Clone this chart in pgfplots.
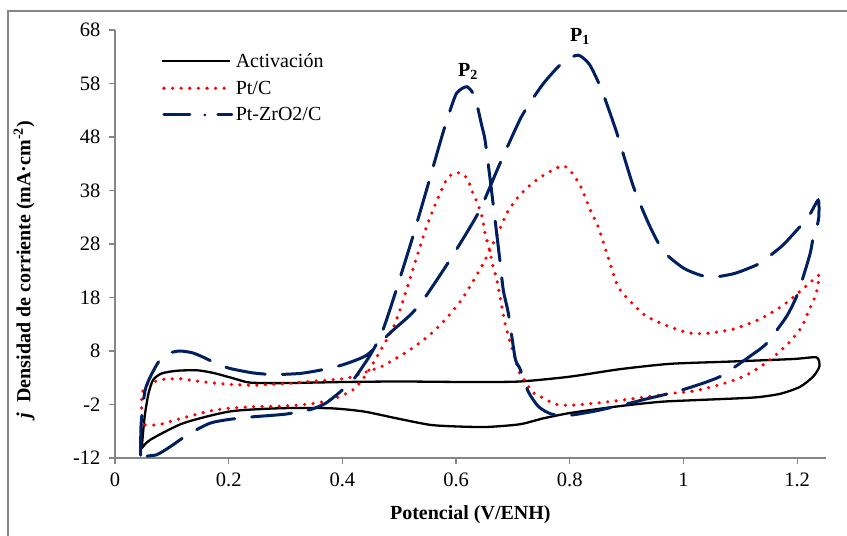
\documentclass[border=0pt]{standalone}
\usepackage{pgfplots}
\pgfplotsset{compat=1.18}
\usepackage{fontspec}
\setmainfont{Liberation Serif}
\definecolor{navy}{RGB}{0,32,96}
\definecolor{axgray}{RGB}{134,134,134}
\begin{document}
\begin{tikzpicture}[x=1pt,y=1pt]
\useasboundingbox (0,0) rectangle (847,536);
\draw[axgray, line width=1.3pt] (8,-20) -- (8,525) -- (870,525);
\begin{axis}[
  at={(115pt,78pt)}, anchor=south west,
  scale only axis, width=710.6pt, height=428pt,
  xmin=0, xmax=1.25, ymin=-12, ymax=68,
  axis lines*=left,
  axis line style={axgray, line width=1.2pt},
  tick style={axgray, line width=1.2pt},
  tick align=outside, major tick length=6pt,
  xtick={0,0.2,0.4,0.6,0.8,1,1.2},
  xticklabels={0,0.2,0.4,0.6,0.8,1,1.2},
  ytick={-12,-2,8,18,28,38,48,58,68},
  yticklabels={-12,-2,8,18,28,38,48,58,68},
  ticklabel style={font=\fontsize{20.5}{22}\selectfont, text=black},
  xticklabel style={yshift=-5pt},
  yticklabel style={xshift=-5pt},
  xlabel={\textbf{Potencial (V/ENH)}},
  xlabel style={at={(axis description cs:0.5,-0.132)}, anchor=center, font=\fontsize{20}{22}\selectfont},
  ylabel={\textbf{\textit{j}\hspace{0.5em}Densidad de corriente (mA·cm\textsuperscript{-2})}},
  ylabel style={at={(axis description cs:-0.128,0.44)}, anchor=center, rotate=0, font=\fontsize{20}{22}\selectfont},
  legend style={draw=none, fill=none, at={(rel axis cs:0.06,0.955)}, anchor=north west,
    font=\fontsize{20}{22}\selectfont, row sep=8pt, legend cell align=left},
  legend image code/.code={\draw[#1] (0pt,0pt) -- (68pt,0pt);},
  clip=false,
]
% Activacion
\addplot[black, line width=2.3pt, smooth, tension=0.4] coordinates {
(0.047,-10.2) (0.050,-6.5) (0.053,-3.6) (0.059,0.1) (0.067,2.6) (0.082,3.8) (0.108,4.3)
(0.144,4.4) (0.173,3.9) (0.208,2.9) (0.237,2.1) (0.296,2.0) (0.4,2.2) (0.5,2.3)
(0.624,2.2) (0.712,2.3) (0.80,3.2) (0.888,4.6) (0.976,5.6) (1.076,6.0) (1.193,6.5)
(1.234,6.8) (1.239,5.1) (1.228,3.2) (1.205,1.3) (1.17,0.0) (1.123,-0.7) (1.017,-1.2)
(0.959,-1.5) (0.888,-2.3) (0.80,-3.6) (0.753,-4.6) (0.712,-5.7) (0.654,-6.2) (0.60,-6.1)
(0.554,-5.8) (0.496,-4.6) (0.437,-3.3) (0.378,-2.7) (0.29,-2.7) (0.202,-3.3) (0.12,-5.5)
(0.062,-8.6) (0.047,-10.2)
};
\addlegendentry{Activación}
% Pt/C
\addplot[red, line width=3.6pt, line cap=round, dash pattern=on 0pt off 8.5pt, smooth, tension=0.4,
  legend image code/.code={\draw[red, line width=3.6pt, line cap=round, dash pattern=on 0pt off 8.6pt] (2pt,0pt) -- (70pt,0pt);}] coordinates {
(0.050,-5.8) (0.047,-3.5) (0.047,-1) (0.050,0.8) (0.058,1.9) (0.07,2.3) (0.085,2.7)
(0.1,2.8) (0.117,2.8) (0.15,2.3) (0.196,1.8) (0.243,1.6) (0.278,1.8) (0.314,2.0)
(0.343,2.3) (0.38,2.6) (0.408,2.9) (0.44,4) (0.469,5.1) (0.484,6) (0.51,7.6)
(0.537,9.6) (0.56,11.6) (0.583,14.1) (0.607,17.2) (0.624,20) (0.648,24.4) (0.671,29.4)
(0.689,33.7) (0.707,36.5) (0.73,39) (0.756,41) (0.786,42.6) (0.80,41.8) (0.818,39)
(0.836,34.4) (0.85,31.2) (0.865,26.3) (0.885,20) (0.909,17) (0.932,14.7) (0.962,13.1)
(1.008,11.4) (1.041,11.3) (1.088,12.1) (1.135,14) (1.176,16.6) (1.211,19.7) (1.225,21)
(1.239,22.2) (1.237,20.7) (1.234,19.1) (1.228,17.2) (1.221,15.7) (1.208,12.5) (1.187,9.7)
(1.164,7.4) (1.14,5.4) (1.111,3.5) (1.082,2.3) (1.05,1.3) (1.017,0.5) (0.982,0.1)
(0.906,-1) (0.859,-1.6) (0.809,-2.1) (0.777,-2) (0.748,-0.5) (0.733,0.4) (0.724,2)
(0.712,3.8) (0.704,6.6) (0.695,9.7) (0.686,13.2) (0.68,16.6) (0.671,21.6) (0.665,23.8)
(0.66,26.3) (0.651,30) (0.645,33.4) (0.633,36.8) (0.627,38.1) (0.621,40) (0.61,41.2)
(0.595,41.2) (0.583,40) (0.569,36.8) (0.557,33.7) (0.545,30.3) (0.531,25.6) (0.507,17.5)
(0.49,12.5) (0.466,7.9) (0.443,3.8) (0.422,1) (0.408,0.1) (0.378,-1.2) (0.343,-1.9)
(0.296,-2.3) (0.249,-2.4) (0.2,-2.7) (0.167,-3.2) (0.138,-4) (0.106,-4.9) (0.076,-5.8)
(0.050,-5.8)
};
\addlegendentry{Pt/C}
% Pt-ZrO2/C
\addplot[navy, line width=3pt, line cap=round, dash pattern=on 40pt off 17pt, smooth, tension=0.4,
  legend image code/.code={\draw[navy, line width=3pt, line cap=round, dash pattern=on 26pt off 15pt on 0pt off 13pt] (2pt,0pt) -- (70pt,0pt);}] coordinates {
(0.045,-11.5) (0.046,-5.5) (0.053,0.7) (0.065,3.8) (0.08,6.5) (0.095,7.6) (0.114,8.0)
(0.135,7.7) (0.152,7.0) (0.172,6.0) (0.2,4.8) (0.243,3.9) (0.28,3.6) (0.325,3.8)
(0.36,4.4) (0.40,5.4) (0.443,7.25) (0.484,11.4) (0.519,14.7) (0.542,17.5) (0.589,25)
(0.64,34) (0.677,43) (0.715,51.8) (0.75,57.5) (0.774,60.5) (0.792,62.3) (0.815,63.3)
(0.835,61.5) (0.856,56.8) (0.882,49) (0.912,38.7) (0.94,31.5) (0.965,26.6) (1.0,23.5)
(1.029,22.2) (1.052,21.8) (1.09,22.5) (1.129,24.1) (1.146,25.3) (1.175,27.8) (1.202,30.9)
(1.22,33.1) (1.237,36.2) (1.238,33) (1.233,30.5) (1.228,29.1) (1.223,26.3) (1.211,22)
(1.199,18.2) (1.181,14.4) (1.146,9.4) (1.122,7.4) (1.09,5) (1.064,3.2) (1.035,2)
(1.0,0.8) (0.965,-0.2) (0.941,-0.8) (0.90,-1.9) (0.871,-2.6) (0.841,-3.3) (0.80,-4)
(0.768,-3.8) (0.745,-2.4) (0.727,0.4) (0.712,4.8) (0.704,6.6) (0.692,15) (0.683,19.4)
(0.677,25) (0.668,33) (0.66,40) (0.651,47.4) (0.645,50.2) (0.633,55.5) (0.619,57.4)
(0.601,56.2) (0.588,52.5) (0.575,48.1) (0.548,38.1) (0.522,28.7) (0.489,17.5) (0.469,11.3)
(0.449,7.25) (0.419,2.6) (0.392,0) (0.37,-1.8) (0.345,-2.9) (0.3,-3.8) (0.243,-4.3)
(0.2,-4.8) (0.167,-5.5) (0.13,-7.5) (0.097,-9.9) (0.073,-11.4) (0.047,-11.7)
};
\addlegendentry{Pt-ZrO2/C}
\node[font=\bfseries\fontsize{20}{22}\selectfont] at (axis cs:0.818,66.8) {P\textsubscript{1}};
\node[font=\bfseries\fontsize{20}{22}\selectfont] at (axis cs:0.621,60.3) {P\textsubscript{2}};
\end{axis}
\end{tikzpicture}
\end{document}
